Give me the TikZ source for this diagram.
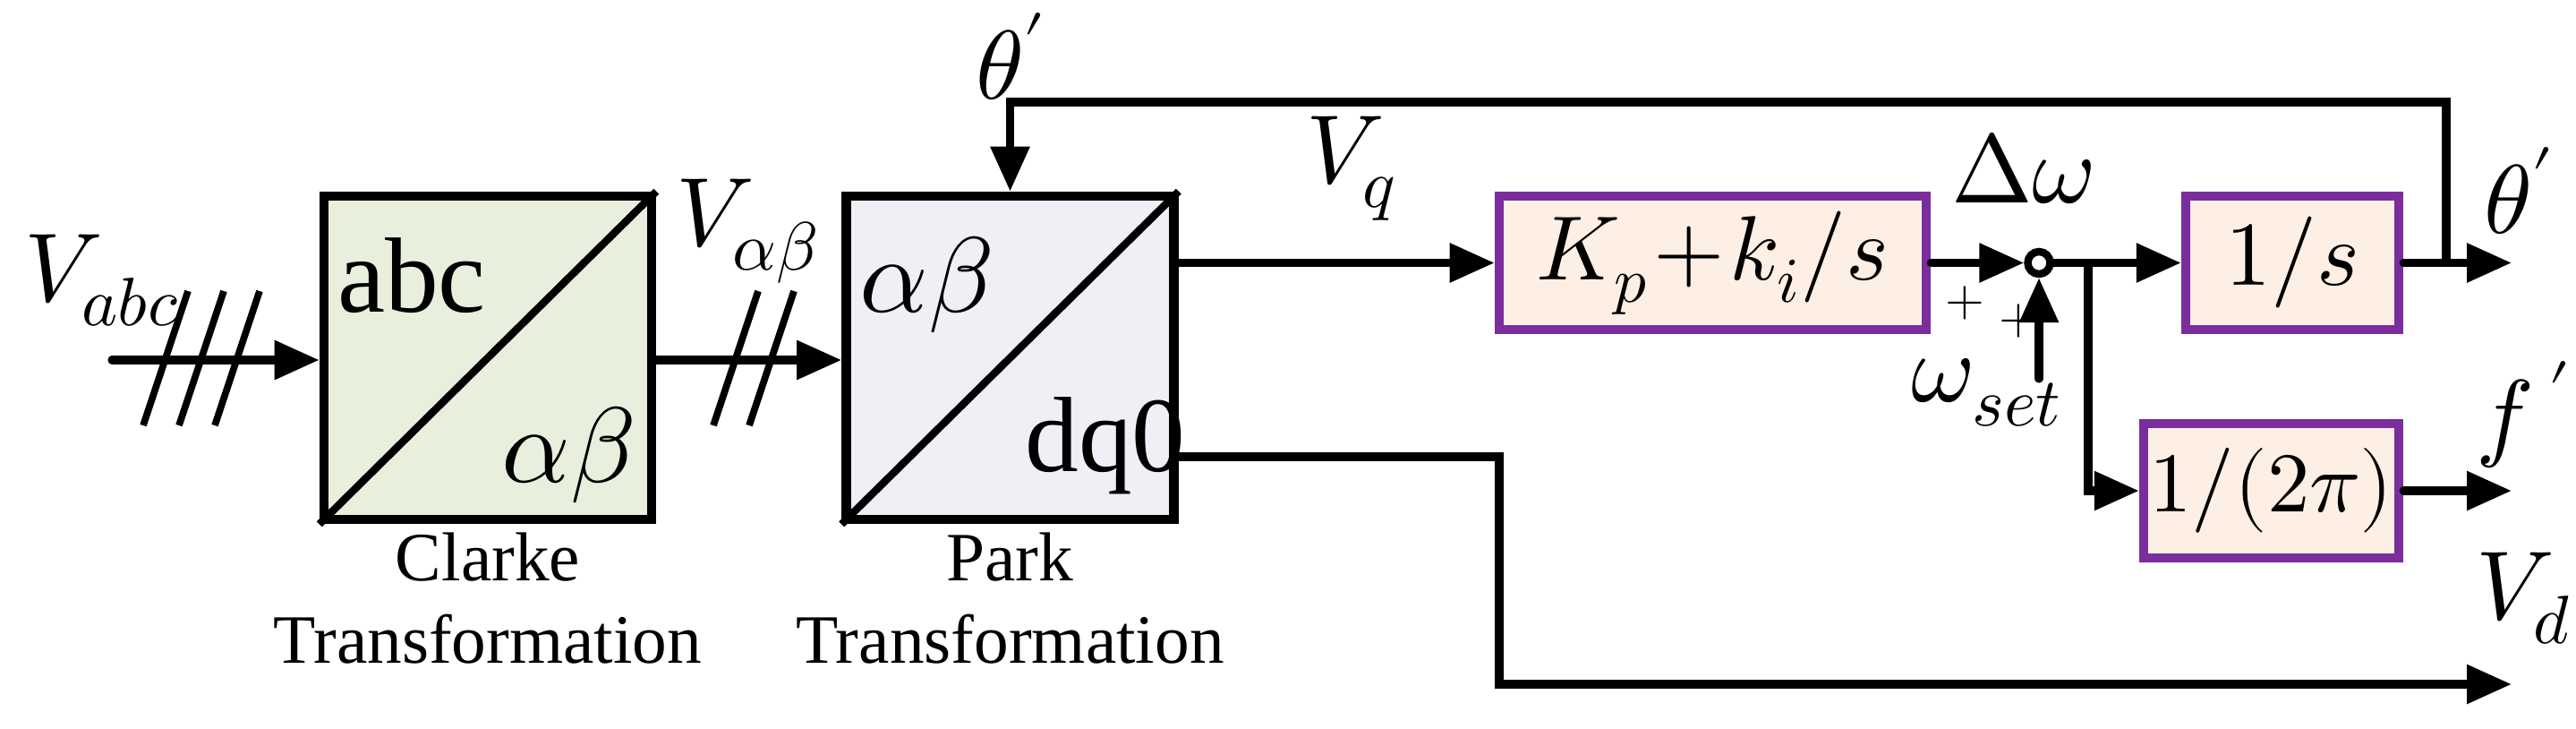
\documentclass[tikz,border=0pt]{standalone}
\usepackage{fontspec}
\setmainfont{Liberation Serif}
\usepackage{unicode-math}
\setmathfont{Latin Modern Math}
\usetikzlibrary{arrows.meta}
\begin{document}
\begin{tikzpicture}[
  wire/.style={line width=2.6pt,line cap=round},
  arr/.style={wire,-{Triangle[length=0.5cm,width=0.42cm]}},
  tbox/.style={draw,line width=3pt,minimum width=3.66cm,minimum height=3.61cm,inner sep=0},
  pbox/.style={draw=purp,fill=peach,line width=3pt,inner sep=0},
  lbl/.style={font=\fontsize{31}{31}\selectfont},
  inl/.style={font=\fontsize{34}{34}\selectfont},
  captxt/.style={font=\fontsize{22}{26}\selectfont,align=center}]
\definecolor{gr}{HTML}{E8EFDD}
\definecolor{lav}{HTML}{F1EEF5}
\definecolor{peach}{HTML}{FDEFE3}
\definecolor{purp}{HTML}{7B2D9E}
\useasboundingbox (0,0) rectangle (28.78,8.13);
% Clarke
\node[tbox,fill=gr] (cl) at (5.45,4.135) {};
\draw[line width=2.4pt] (cl.south west) -- (cl.north east);
\node[inl] (cla) at (4.6,5.05) {abc};
\node[inl] (clb) at (6.35,3.05) {$\alpha\beta$};
\node[captxt] (clc) at (5.45,1.45) {Clarke\\Transformation};
% Park
\node[tbox,fill=lav] (pk) at (11.285,4.135) {};
\draw[line width=2.4pt] (pk.south west) -- (pk.north east);
\node[inl] (pka) at (10.35,4.95) {$\alpha\beta$};
\node[inl] (pkb) at (12.35,3.15) {dq0};
\node[captxt] (pkc) at (11.285,1.45) {Park\\Transformation};
% PI
\node[pbox,minimum width=4.77cm,minimum height=1.49cm] (pi) at (19.135,5.195) {};
\node[lbl,font=\fontsize{29}{29}\selectfont] (pit) at (pi) {$K_p\!+\!k_i/s$};
\node[draw,line width=2.4pt,circle,fill=white,minimum size=0.25cm,inner sep=0] (sum) at (22.78,5.195) {};
\node[pbox,minimum width=2.38cm,minimum height=1.49cm] (int) at (25.61,5.195) {};
\node[lbl,font=\fontsize{29}{29}\selectfont] (intt) at (int) {$1/s$};
\node[pbox,minimum width=2.85cm,minimum height=1.5cm] (fr) at (25.375,2.65) {};
\node[lbl,font=\fontsize{27}{27}\selectfont] (frt) at (fr) {$1/(2\pi)$};
% coordinates
\coordinate (in) at (1.25,4.11);
\coordinate (b) at (23.33,5.195);
\coordinate (fb) at (27.33,5.195);
\coordinate (th) at (28.06,5.195);
\coordinate (fo) at (28.06,2.65);
\coordinate (vd) at (28.06,0.49);
\coordinate (ws) at (22.78,3.9);
% wires
\draw[arr] (in) -- (cl.west|-in);
\draw[arr] (cl.east|-in) -- (pk.west|-in);
\draw[arr] (pk.east|-pi) -- (pi.west);
\draw[arr] (pi.east) -- (sum.west);
\draw[arr] (sum.east) -- (int.west);
\draw[arr] (b) |- (fr.west);
\draw[arr] (int.east) -- (th);
\draw[arr] (fb) |- (11.285,6.99) -- (pk.north);
\draw[arr] (fr.east) -- (fo);
\draw[arr] (pk.east|-0,3.03) -- (16.75,3.03) |- (vd);
\draw[arr] (ws) -- (sum.south);
% slash marks
\foreach \x in {1.85,2.25,2.65} \draw[line width=2.2pt] (\x-0.25,3.38) -- (\x+0.25,4.88);
\foreach \x in {8.22,8.62} \draw[line width=2.2pt] (\x-0.25,3.38) -- (\x+0.25,4.88);
% labels
\node[lbl] (l1) at (1.15,5.0) {$V_{abc}$};
\node[lbl] (l2) at (8.35,5.55) {$V_{\alpha\beta}$};
\node[lbl] (l3) at (11.3,7.5) {$\theta'$};
\node[lbl] (l4) at (15.1,6.25) {$V_q$};
\node[lbl] (l5) at (22.6,6.25) {$\Delta\omega$};
\node[lbl] (l6) at (28.15,6.0) {$\theta'$};
\node[lbl] (l7) at (28.2,3.5) {$f\,'$};
\node[lbl] (l8) at (28.2,1.45) {$V_d$};
\node[lbl] (l9) at (22.2,3.75) {$\omega_{set}$};
\node[font=\fontsize{16}{16}\selectfont] (p1) at (21.95,4.75) {$+$};
\node[font=\fontsize{16}{16}\selectfont] (p2) at (22.55,4.55) {$+$};
\end{tikzpicture}
\end{document}
